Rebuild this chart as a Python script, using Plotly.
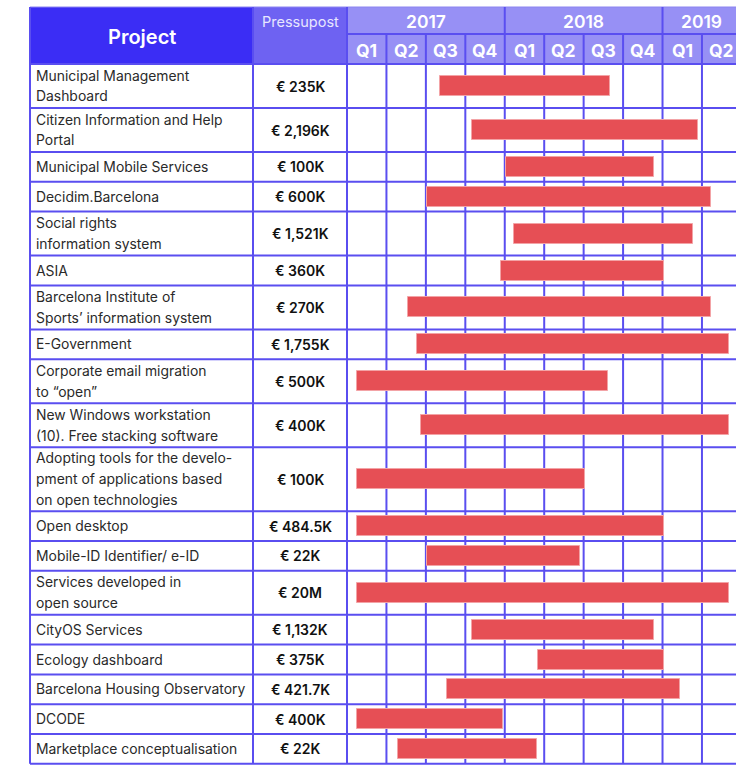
import plotly.graph_objects as go

# ---------------- data ----------------
projects = [
    "Municipal Management\nDashboard",
    "Citizen Information and Help\nPortal",
    "Municipal Mobile Services",
    "Decidim.Barcelona",
    "Social rights\ninformation system",
    "ASIA",
    "Barcelona Institute of\nSports’ information system",
    "E-Government",
    "Corporate email migration\nto “open”",
    "New Windows workstation\n(10). Free stacking software",
    "Adopting tools for the develo-\npment of applications based\non open technologies",
    "Open desktop",
    "Mobile-ID Identifier/ e-ID",
    "Services developed in\nopen source",
    "CityOS Services",
    "Ecology dashboard",
    "Barcelona Housing Observatory",
    "DCODE",
    "Marketplace conceptualisation",
]
budgets = ["€ 235K", "€ 2,196K", "€ 100K", "€ 600K", "€ 1,521K", "€ 360K",
           "€ 270K", "€ 1,755K", "€ 500K", "€ 400K", "€ 100K", "€ 484.5K",
           "€ 22K", "€ 20M", "€ 1,132K", "€ 375K", "€ 421.7K", "€ 400K", "€ 22K"]
# start / end in quarters counted from the start of 2017 Q1
starts = [2.36, 3.16, 4.02, 2.04, 4.23, 3.91, 1.55, 1.77, 0.26, 1.88,
          0.26, 0.26, 2.02, 0.26, 3.16, 4.83, 2.53, 0.26, 1.29]
ends = [6.67, 8.91, 7.78, 9.23, 8.78, 8.03, 9.23, 9.69, 6.61, 9.69,
        6.03, 8.03, 5.91, 9.69, 7.78, 8.03, 8.45, 3.95, 4.82]
years = ["2017", "2018", "2019"]
year_quarters = [4, 4, 2]
quarter_labels = ["Q1", "Q2", "Q3", "Q4", "Q1", "Q2", "Q3", "Q4", "Q1", "Q2"]

# ---------------- layout constants (pixels) ----------------
W, H = 736, 772
X0, XP, XQ = 30, 253, 347          # table left, budget col, quarter area
QW = 39.44                          # px per quarter
TOP, YMID, HEAD_END = 7, 34, 64
LINE_H = {1: 29.8, 2: 44, 3: 64}
LINE_SP = 20.8

C_PROJ = "#3B2DF5"
C_PRES = "#6E62F2"
C_TIME = "#9790F5"
C_LINE = "#5A4EF0"
C_BAR = "#E64F55"
FONT = "Inter"

rows_lines = [p.split("\n") for p in projects]
heights = [LINE_H[len(l)] for l in rows_lines]
bounds = [HEAD_END]
for h in heights:
    bounds.append(bounds[-1] + h)
centers = [(bounds[i] + bounds[i + 1]) / 2 for i in range(len(heights))]
BOTTOM = bounds[-1]

fig = go.Figure()

fig.add_trace(go.Bar(
    orientation="h",
    y=centers,
    base=starts,
    x=[e - s for s, e in zip(starts, ends)],
    width=20,
    marker=dict(color=C_BAR, line=dict(color="#F3A3A6", width=1)),
    xaxis="x2", yaxis="y",
    hoverinfo="skip",
    showlegend=False,
))

shapes = []
# header fills
shapes.append(dict(type="rect", xref="x", yref="y", x0=X0, x1=XP, y0=TOP, y1=HEAD_END,
                   fillcolor=C_PROJ, line_width=0, layer="below"))
shapes.append(dict(type="rect", xref="x", yref="y", x0=XP, x1=XQ, y0=TOP, y1=HEAD_END,
                   fillcolor=C_PRES, line_width=0, layer="below"))
shapes.append(dict(type="rect", xref="x", yref="y", x0=XQ, x1=W + 5, y0=TOP, y1=HEAD_END,
                   fillcolor=C_TIME, line_width=0, layer="below"))

def hline(y, x0, x1, color=C_LINE, w=2):
    shapes.append(dict(type="line", xref="x", yref="y", x0=x0, x1=x1, y0=y, y1=y,
                       line=dict(color=color, width=w), layer="below"))

def vline(x, y0, y1, xref="x", color=C_LINE, w=2):
    shapes.append(dict(type="line", xref=xref, yref="y", x0=x, x1=x, y0=y0, y1=y1,
                       line=dict(color=color, width=w), layer="below"))

# horizontal lines
hline(TOP, X0, W + 5, color="#8C84F0", w=1)
hline(YMID, XQ, W + 5)
for b in bounds:
    hline(b, X0, W + 5)
# vertical lines of table
vline(X0, TOP, BOTTOM)
vline(XP, TOP, BOTTOM)
vline(XQ, TOP, BOTTOM)
# quarter lines
nq = sum(year_quarters)
yb = [0]
for q in year_quarters:
    yb.append(yb[-1] + q)
for k in range(1, nq + 1):
    vline(k, YMID if k not in yb else TOP, BOTTOM, xref="x2")

annotations = []
annotations.append(dict(x=(X0 + XP) / 2, y=(TOP + HEAD_END) / 2 + 1, xref="x", yref="y",
                        text="Project", showarrow=False,
                        font=dict(family=FONT, size=20, color="white", weight=600)))
annotations.append(dict(x=(XP + XQ) / 2, y=21, xref="x", yref="y",
                        text="Pressupost", showarrow=False,
                        font=dict(family=FONT, size=14.5, color="#E8E6FF")))
for i, yname in enumerate(years):
    annotations.append(dict(x=(yb[i] + yb[i + 1]) / 2, y=(TOP + YMID) / 2 + 1,
                            xref="x2", yref="y", text=yname, showarrow=False,
                            font=dict(family=FONT, size=17.5, color="white", weight=600)))
for k, ql in enumerate(quarter_labels):
    annotations.append(dict(x=k + 0.5, y=(YMID + HEAD_END) / 2 + 1, xref="x2", yref="y",
                            text=ql, showarrow=False,
                            font=dict(family=FONT, size=17.5, color="white", weight=700)))

for i, lines in enumerate(rows_lines):
    n = len(lines)
    for j, ln in enumerate(lines):
        yy = centers[i] + (j - (n - 1) / 2) * LINE_SP
        annotations.append(dict(x=X0 + 4, y=yy, xref="x", yref="y", text=ln,
                                showarrow=False, xanchor="left",
                                font=dict(family=FONT, size=13.9, color="#2a2a2a")))
    annotations.append(dict(x=(XP + XQ) / 2, y=centers[i], xref="x", yref="y",
                            text=budgets[i], showarrow=False,
                            font=dict(family=FONT, size=14, color="#111111", weight=600)))

fig.update_layout(
    width=W, height=H,
    margin=dict(l=0, r=0, t=0, b=0),
    paper_bgcolor="white", plot_bgcolor="rgba(0,0,0,0)",
    shapes=shapes, annotations=annotations,
    xaxis=dict(range=[0, W], visible=False, fixedrange=True, domain=[0, 1]),
    xaxis2=dict(range=[0, (W - XQ) / QW], visible=False, fixedrange=True,
                domain=[XQ / W, 1], anchor="y"),
    yaxis=dict(range=[H, 0], visible=False, fixedrange=True),
    bargap=0,
)

fig.write_html("out.html")
